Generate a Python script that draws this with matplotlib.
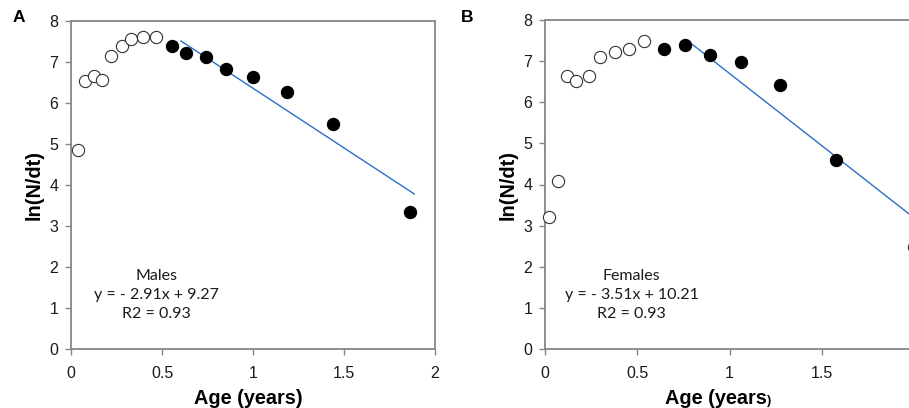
import matplotlib.pyplot as plt

plt.rcParams['font.family'] = ['Liberation Sans', 'DejaVu Sans']

# males: early ages (open) and ages used for the fit (filled)
males_open_age = [0.037, 0.079, 0.126, 0.170, 0.218, 0.278, 0.330, 0.397, 0.469]
males_open_ln = [4.86, 6.53, 6.65, 6.55, 7.15, 7.39, 7.55, 7.60, 7.60]
males_fit_age = [0.553, 0.632, 0.740, 0.850, 1.000, 1.189, 1.438, 1.861]
males_fit_ln = [7.38, 7.21, 7.11, 6.84, 6.63, 6.26, 5.48, 3.33]
males_slope, males_intercept, males_r2 = -2.91, 9.27, 0.93
males_line_x = [0.604, 1.886]

# females
females_open_age = [0.020, 0.070, 0.119, 0.168, 0.236, 0.296, 0.379, 0.455, 0.536, 2.00]
females_open_ln = [3.20, 4.08, 6.65, 6.52, 6.65, 7.10, 7.21, 7.30, 7.48, 2.47]
females_fit_age = [0.646, 0.758, 0.897, 1.065, 1.276, 1.576]
females_fit_ln = [7.29, 7.38, 7.14, 6.97, 6.41, 4.60]
females_slope, females_intercept, females_r2 = -3.51, 10.21, 0.93
females_line_x = [0.80, 2.05]

x_ticks = [0, 0.5, 1, 1.5, 2]
x_tick_labels_a = ['0', '0.5', '1', '1.5', '2']
x_tick_labels_b = ['0', '0.5', '1', '1.5', '']  # last one falls off the page
y_ticks = list(range(9))

W, H = 909, 408
fig = plt.figure(figsize=(W / 100, H / 100), dpi=100)
spine_col = '#868686'
label_size = 14.3


def draw_panel(ax, open_x, open_y, fit_x, fit_y, slope, intercept, r2, line_x,
               name, xlabels):
    ax.plot(open_x, open_y, 'o', ms=8.8, mfc='white', mec='#333333', mew=0.8,
            clip_on=False, zorder=3)
    ax.plot(fit_x, fit_y, 'o', ms=8.8, mfc='black', mec='black', mew=0.8,
            clip_on=False, zorder=3)
    line_y = [slope * x + intercept for x in line_x]
    ax.plot(line_x, line_y, color='#2a6fc9', lw=1.0, clip_on=False, zorder=2)

    ax.set_xlim(0, 2)
    ax.set_ylim(0, 8)
    ax.set_xticks(x_ticks)
    ax.set_xticklabels(xlabels)
    ax.set_yticks(y_ticks)
    for s in ax.spines.values():
        s.set_color(spine_col)
        s.set_linewidth(1.3)
    ax.tick_params(direction='out', length=4, width=1.0, color=spine_col,
                   labelsize=11.5, labelcolor='#1a1a1a')
    ax.tick_params(axis='x', pad=8)
    ax.tick_params(axis='y', pad=5)
    ax.set_ylabel('ln(N/dt)', fontsize=label_size, fontweight='bold', labelpad=4)

    txt = f'{name}\ny = - {abs(slope):.2f}x + {intercept:.2f}\nR2 = {r2:.2f}'
    ax.text(0.47, 1.32, txt, family=['Lato', 'DejaVu Sans'], fontsize=11.5,
            ha='center', va='center', linespacing=1.45, color='#1a1a1a')


ax_a = fig.add_axes([71 / W, 1 - 349 / H, 364 / W, 328 / H])
draw_panel(ax_a, males_open_age, males_open_ln, males_fit_age, males_fit_ln,
           males_slope, males_intercept, males_r2, males_line_x, 'Males',
           x_tick_labels_a)
fig.text(248 / W, 1 - 404 / H, 'Age (years)', fontsize=label_size,
         fontweight='bold', ha='center', va='baseline')

ax_b = fig.add_axes([545 / W, 1 - 349 / H, 369 / W, 329 / H])
draw_panel(ax_b, females_open_age, females_open_ln, females_fit_age, females_fit_ln,
           females_slope, females_intercept, females_r2, females_line_x, 'Females',
           x_tick_labels_b)
# x label with the smaller closing bracket
fig.text(767 / W, 1 - 404 / H, 'Age (years', fontsize=label_size,
         fontweight='bold', ha='right', va='baseline')
fig.text(767 / W, 1 - 404 / H, ')', fontsize=9, fontweight='bold',
         ha='left', va='baseline')

fig.text(13 / W, 1 - 18 / H, 'A', fontsize=12.5, fontweight='bold', va='center')
fig.text(461 / W, 1 - 18 / H, 'B', fontsize=12.5, fontweight='bold', va='center')

plt.savefig('out.png', dpi=100)
